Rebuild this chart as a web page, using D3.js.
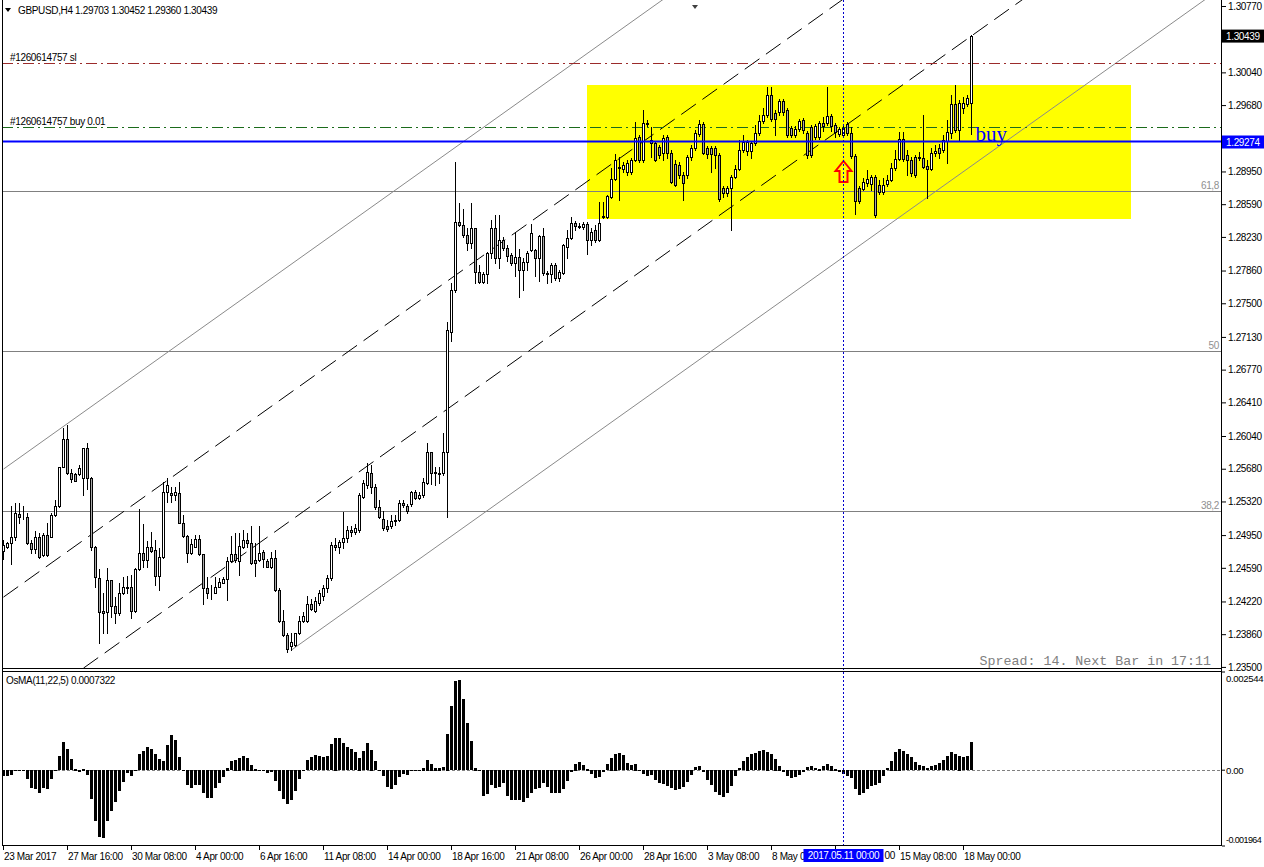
<!DOCTYPE html>
<html><head><meta charset="utf-8">
<script src="https://cdn.jsdelivr.net/npm/d3@7"></script>
<style>
body{margin:0;background:#fff;overflow:hidden}
svg{display:block}
text{font-family:"Liberation Sans",Arial,sans-serif;letter-spacing:-0.35px}
</style>
</head><body>
<svg id="c" width="1264" height="867"></svg>
<script>
// ---------------- DATA ----------------
const symbolTitle = "GBPUSD,H4  1.29703 1.30452 1.29360 1.30439";
const osmaTitle = "OsMA(11,22,5) 0.0007322";
const open=[1.24775,1.24819,1.24863,1.24929,1.25182,1.25160,1.25149,1.24863,1.24797,1.24929,1.24731,1.24951,1.24929,1.25171,1.25270,1.25699,1.26007,1.25633,1.25622,1.25622,1.25578,1.25908,1.25578,1.24819,1.24478,1.24115,1.24104,1.24456,1.24170,1.24093,1.24313,1.24368,1.24379,1.24115,1.24577,1.24753,1.24676,1.24819,1.24786,1.24500,1.24709,1.25424,1.25413,1.25391,1.25413,1.25083,1.24940,1.24753,1.24819,1.24907,1.24742,1.24368,1.24324,1.24313,1.24379,1.24423,1.24467,1.24665,1.24742,1.24665,1.24819,1.24896,1.24863,1.24676,1.24676,1.24764,1.24665,1.24599,1.24698,1.24346,1.24005,1.23851,1.23730,1.23741,1.23873,1.24005,1.24005,1.24192,1.24115,1.24203,1.24280,1.24368,1.24478,1.24841,1.24819,1.24874,1.24918,1.25006,1.24984,1.25006,1.25369,1.25501,1.25633,1.25479,1.25259,1.25127,1.25050,1.25050,1.25116,1.25116,1.25303,1.25270,1.25292,1.25424,1.25358,1.25391,1.25523,1.25864,1.25633,1.25633,1.25633,1.25864,1.27184,1.27646,1.28394,1.28361,1.28251,1.28163,1.28328,1.27844,1.27734,1.27822,1.28053,1.28328,1.27998,1.28196,1.28108,1.28031,1.27943,1.28009,1.27866,1.27954,1.28086,1.28086,1.27998,1.28240,1.27833,1.27822,1.27921,1.27778,1.27833,1.28119,1.28218,1.28383,1.28350,1.28339,1.28372,1.28196,1.28306,1.28196,1.28449,1.28449,1.28669,1.28867,1.28988,1.28977,1.28944,1.28944,1.29076,1.29329,1.29076,1.29483,1.29296,1.29263,1.29219,1.29153,1.29329,1.29153,1.29032,1.29021,1.28911,1.28911,1.29109,1.29208,1.29362,1.29472,1.29208,1.29208,1.29208,1.29131,1.28768,1.28713,1.28768,1.28889,1.28977,1.29186,1.29175,1.29175,1.29263,1.29373,1.29505,1.29571,1.29791,1.29593,1.29604,1.29725,1.29626,1.29428,1.29351,1.29417,1.29516,1.29373,1.29439,1.29329,1.29329,1.29483,1.29483,1.29560,1.29461,1.29362,1.29351,1.29472,1.29373,1.29120,1.28768,1.28757,1.28823,1.28812,1.28889,1.28801,1.28724,1.28812,1.28856,1.28988,1.29087,1.29307,1.29131,1.29076,1.29109,1.29098,1.29098,1.29010,1.28977,1.29153,1.29208,1.29186,1.29285,1.29373,1.29692,1.29406,1.29648,1.29692,1.29703];
const high=[1.24896,1.24874,1.25270,1.25303,1.25303,1.25270,1.25193,1.24896,1.24995,1.24973,1.24973,1.25083,1.25193,1.25336,1.25699,1.26128,1.26161,1.25677,1.25633,1.25721,1.25908,1.25963,1.25589,1.24830,1.24577,1.24313,1.24588,1.24456,1.24269,1.24423,1.24489,1.24500,1.24511,1.24588,1.25237,1.25072,1.24885,1.24984,1.24896,1.24808,1.25534,1.25578,1.25479,1.25479,1.25534,1.25171,1.24951,1.24907,1.24951,1.24951,1.24742,1.24489,1.24401,1.24489,1.24478,1.24489,1.24709,1.24940,1.24973,1.24973,1.25006,1.24973,1.25050,1.24863,1.25050,1.24786,1.24687,1.24764,1.24786,1.24368,1.24126,1.23873,1.23873,1.23873,1.24060,1.24104,1.24280,1.24247,1.24269,1.24346,1.24401,1.24511,1.24874,1.24918,1.24896,1.25204,1.25050,1.25050,1.25072,1.25413,1.25556,1.25743,1.25721,1.25512,1.25336,1.25215,1.25116,1.25171,1.25171,1.25336,1.25336,1.25292,1.25435,1.25446,1.25424,1.25578,1.25963,1.25864,1.25699,1.25699,1.26073,1.27294,1.27723,1.29054,1.28603,1.28537,1.28328,1.28603,1.28328,1.27921,1.27844,1.28064,1.28416,1.28471,1.28471,1.28229,1.28141,1.28053,1.28284,1.28097,1.27998,1.28075,1.28372,1.28097,1.28251,1.28328,1.27855,1.27943,1.27943,1.27866,1.28152,1.28306,1.28449,1.28405,1.28383,1.28394,1.28394,1.28328,1.28361,1.28614,1.28614,1.28691,1.28988,1.29142,1.29109,1.29054,1.29076,1.29098,1.29494,1.29351,1.29626,1.29516,1.29439,1.29285,1.29241,1.29351,1.29351,1.29186,1.29076,1.29054,1.28944,1.29131,1.29241,1.29406,1.29516,1.29494,1.29230,1.29230,1.29230,1.29153,1.28790,1.28790,1.28911,1.29021,1.29296,1.29351,1.29296,1.29285,1.29461,1.29571,1.29648,1.29879,1.29879,1.29626,1.29747,1.29747,1.29648,1.29450,1.29450,1.29527,1.29538,1.29395,1.29461,1.29472,1.29505,1.29549,1.29879,1.29582,1.29483,1.29439,1.29450,1.29494,1.29439,1.29142,1.28790,1.28878,1.28966,1.28911,1.28911,1.28856,1.28878,1.28911,1.29043,1.29186,1.29384,1.29384,1.29186,1.29109,1.29131,1.29164,1.29571,1.29076,1.29208,1.29241,1.29252,1.29351,1.29516,1.29791,1.29901,1.29736,1.29769,1.29791,1.30452];
const low=[1.24687,1.24808,1.24632,1.24896,1.25083,1.25127,1.24852,1.24753,1.24753,1.24698,1.24720,1.24720,1.24929,1.25160,1.25259,1.25699,1.25622,1.25534,1.25545,1.25611,1.25391,1.25457,1.24786,1.24379,1.23763,1.23873,1.23873,1.24049,1.23983,1.24071,1.24302,1.24313,1.24038,1.24104,1.24566,1.24599,1.24599,1.24764,1.24401,1.24346,1.24698,1.25314,1.25314,1.25336,1.25083,1.24929,1.24654,1.24742,1.24819,1.24731,1.24192,1.24258,1.24247,1.24313,1.24379,1.24423,1.24236,1.24654,1.24654,1.24511,1.24808,1.24819,1.24632,1.24500,1.24665,1.24599,1.24599,1.24588,1.24335,1.23994,1.23840,1.23664,1.23686,1.23730,1.23862,1.23994,1.23994,1.24126,1.24104,1.24181,1.24236,1.24324,1.24456,1.24786,1.24753,1.24808,1.24874,1.24940,1.24962,1.24984,1.25358,1.25468,1.25413,1.25237,1.25138,1.25006,1.24995,1.25028,1.25061,1.25105,1.25259,1.25193,1.25270,1.25347,1.25347,1.25369,1.25512,1.25512,1.25501,1.25523,1.25611,1.25149,1.27085,1.27624,1.28350,1.28229,1.28086,1.28108,1.27723,1.27723,1.27723,1.27723,1.27998,1.27943,1.27888,1.28086,1.27965,1.27921,1.27800,1.27569,1.27646,1.27866,1.28075,1.27800,1.27745,1.27811,1.27723,1.27734,1.27756,1.27745,1.27822,1.27998,1.28207,1.28306,1.28328,1.28317,1.28042,1.28141,1.28174,1.28185,1.28438,1.28438,1.28658,1.28856,1.28636,1.28944,1.28911,1.28922,1.29065,1.29054,1.29054,1.29450,1.29109,1.29065,1.29098,1.29076,1.29098,1.28823,1.28790,1.28878,1.28636,1.28878,1.29076,1.29186,1.29340,1.29142,1.29098,1.28944,1.28988,1.28625,1.28669,1.28680,1.28306,1.28878,1.28966,1.29164,1.29131,1.29098,1.29241,1.29351,1.29483,1.29549,1.29505,1.29351,1.29571,1.29571,1.29329,1.29329,1.29329,1.29395,1.29373,1.29098,1.29109,1.29307,1.29307,1.29395,1.29461,1.29395,1.29329,1.29340,1.29329,1.29351,1.29098,1.28482,1.28603,1.28746,1.28790,1.28746,1.28449,1.28702,1.28702,1.28790,1.28845,1.28966,1.29076,1.29065,1.28911,1.28900,1.28889,1.29076,1.28988,1.28658,1.28966,1.29120,1.29098,1.29164,1.29043,1.29318,1.29384,1.29296,1.29593,1.29670,1.29360];
const close=[1.24841,1.24863,1.24929,1.25193,1.25149,1.25155,1.24863,1.24797,1.24929,1.24709,1.24951,1.24731,1.25171,1.25270,1.25699,1.26007,1.25633,1.25567,1.25545,1.25688,1.25908,1.25578,1.24819,1.24489,1.24104,1.24093,1.24456,1.24170,1.24093,1.24313,1.24379,1.24379,1.24115,1.24577,1.24753,1.24676,1.24819,1.24775,1.24500,1.24709,1.25424,1.25501,1.25391,1.25424,1.25083,1.24940,1.24753,1.24852,1.24907,1.24742,1.24368,1.24313,1.24320,1.24379,1.24434,1.24467,1.24665,1.24742,1.24676,1.24830,1.24896,1.24863,1.24643,1.24643,1.24753,1.24687,1.24599,1.24698,1.24346,1.24005,1.23851,1.23697,1.23774,1.23873,1.24005,1.24060,1.24192,1.24137,1.24225,1.24313,1.24368,1.24478,1.24841,1.24819,1.24874,1.24918,1.25006,1.24984,1.25028,1.25391,1.25523,1.25644,1.25479,1.25259,1.25149,1.25028,1.25017,1.25105,1.25110,1.25303,1.25281,1.25215,1.25424,1.25358,1.25391,1.25534,1.25864,1.25633,1.25640,1.25625,1.25864,1.27206,1.27646,1.28394,1.28361,1.28251,1.28163,1.28328,1.27844,1.27734,1.27822,1.28053,1.28328,1.27998,1.28196,1.28108,1.28020,1.27943,1.28009,1.27866,1.27954,1.28053,1.28273,1.27998,1.28240,1.27833,1.27822,1.27921,1.27778,1.27844,1.28141,1.28218,1.28383,1.28350,1.28339,1.28372,1.28196,1.28284,1.28196,1.28383,1.28460,1.28680,1.28867,1.29076,1.28999,1.29021,1.29043,1.29076,1.29318,1.29076,1.29483,1.29472,1.29263,1.29076,1.29131,1.29318,1.29153,1.28834,1.28801,1.28911,1.28823,1.29109,1.29208,1.29373,1.29472,1.29153,1.29142,1.29142,1.29131,1.28647,1.28713,1.28768,1.28889,1.28977,1.29186,1.29274,1.29274,1.29263,1.29373,1.29505,1.29571,1.29791,1.29527,1.29527,1.29725,1.29604,1.29351,1.29351,1.29417,1.29505,1.29406,1.29131,1.29131,1.29450,1.29483,1.29450,1.29560,1.29450,1.29384,1.29417,1.29428,1.29373,1.29120,1.28625,1.28625,1.28834,1.28867,1.28889,1.28471,1.28724,1.28801,1.28856,1.28988,1.29087,1.29307,1.29087,1.29076,1.28933,1.28911,1.29109,1.28999,1.28977,1.29153,1.29175,1.29153,1.29296,1.29384,1.29692,1.29406,1.29703,1.29703,1.29758,1.30439];
const osma=[-0.000155,-0.000155,-0.000130,0.000005,0.000017,-0.000005,-0.000242,-0.000475,-0.000501,-0.000605,-0.000475,-0.000501,-0.000242,0.000017,0.000363,0.000734,0.000544,0.000285,0.000043,-0.000043,0.000043,-0.000130,-0.000760,-0.001313,-0.001745,-0.001771,-0.001313,-0.001054,-0.000821,-0.000536,-0.000302,-0.000086,-0.000155,0.000017,0.000415,0.000501,0.000588,0.000544,0.000420,0.000285,0.000242,0.000648,0.000907,0.000778,0.000346,-0.000017,-0.000389,-0.000475,-0.000389,-0.000389,-0.000588,-0.000717,-0.000717,-0.000475,-0.000346,-0.000190,0.000069,0.000242,0.000276,0.000328,0.000372,0.000328,0.000147,0.000043,0.000017,-0.000005,-0.000086,-0.000043,-0.000276,-0.000536,-0.000760,-0.000890,-0.000778,-0.000536,-0.000242,0.000017,0.000259,0.000346,0.000389,0.000363,0.000346,0.000363,0.000674,0.000847,0.000838,0.000708,0.000605,0.000540,0.000475,0.000328,0.000501,0.000708,0.000536,0.000242,0.000017,-0.000155,-0.000449,-0.000501,-0.000389,-0.000190,-0.000104,-0.000130,-0.000017,-0.000005,0.000005,0.000069,0.000276,0.000173,0.000069,0.000069,0.000086,0.000950,0.001659,0.002316,0.002333,0.001832,0.001227,0.000760,0.000069,-0.000017,-0.000674,-0.000622,-0.000389,-0.000475,-0.000449,-0.000346,-0.000674,-0.000778,-0.000790,-0.000778,-0.000821,-0.000734,-0.000605,-0.000501,-0.000475,-0.000328,-0.000449,-0.000605,-0.000588,-0.000588,-0.000501,-0.000276,-0.000043,0.000173,0.000216,0.000130,0.000043,-0.000104,-0.000216,-0.000190,-0.000043,0.000156,0.000328,0.000432,0.000449,0.000389,0.000190,0.000130,0.000173,0.000017,-0.000100,-0.000150,-0.000120,-0.000250,-0.000330,-0.000360,-0.000420,-0.000470,-0.000520,-0.000500,-0.000440,-0.000300,-0.000120,0.000080,0.000110,-0.000060,-0.000250,-0.000400,-0.000560,-0.000650,-0.000690,-0.000600,-0.000420,-0.000160,0.000060,0.000230,0.000350,0.000420,0.000450,0.000500,0.000520,0.000480,0.000420,0.000300,0.000120,-0.000060,-0.000150,-0.000200,-0.000190,-0.000120,-0.000040,0.000080,0.000110,0.000060,0.000040,0.000100,0.000150,0.000120,0.000040,-0.000040,-0.000100,-0.000150,-0.000220,-0.000480,-0.000640,-0.000600,-0.000500,-0.000420,-0.000380,-0.000330,-0.000150,0.000060,0.000250,0.000480,0.000560,0.000500,0.000420,0.000330,0.000200,0.000130,0.000110,0.000060,0.000100,0.000130,0.000180,0.000260,0.000360,0.000470,0.000420,0.000380,0.000330,0.000360,0.0007322];
const priceTicks=[1.30770,1.30040,1.29680,1.28950,1.28590,1.28230,1.27860,1.27500,1.27130,1.26770,1.26410,1.26040,1.25680,1.25320,1.24950,1.24590,1.24220,1.23860,1.23500];
const timeTickIdx=[0,16,32,48,64,80,96,112,128,144,160,176,192,208,224,240];
// labels partly hidden by the crosshair date box are kept as their visible parts
const timeLabels=["23 Mar 2017","27 Mar 16:00","30 Mar 08:00","4 Apr 00:00","6 Apr 16:00","11 Apr 08:00","14 Apr 00:00","18 Apr 16:00","21 Apr 08:00","26 Apr 00:00","28 Apr 16:00","3 May 08:00","8 May 0","","15 May 08:00","18 May 00:00"];
const osmaTicks=[0.002544,0.0,-0.001964];
const osmaTickLabels=["0.002544","0.00","-0.001964"];
const bidPrice=1.29274, lastPrice=1.30439;
const slPrice=1.30143, buyPrice=1.29439;
const orderLabels=["#1260614757 sl","#1260614757 buy 0.01"];
const fibLevels=[1.28735,1.26975,1.25215];
const fibLabels=["61,8","50","38,2"];
// channel lines: [startIdx, startPrice, endIdx, endPrice]
const channelSolid=[[0,1.25676,170,1.31002],[72,1.23686,305,1.30985]];
const channelDashed=[[0,1.24268,220,1.31161],[20,1.23487,260,1.31005]];
const boxIdx=[146,282], boxPrice=[1.29901,1.28427];
const crossIdx=210, crossLabel="2017.05.11 00:00";
const arrowIdx=210, arrowTipPrice=1.29076;
const buyTextIdx=243, buyTextPrice=1.29285;
const spreadText="Spread: 14. Next Bar in 17:11";

// ---------------- LAYOUT ----------------
const svg=d3.select("#c");
const L=2, R=1221, mainTop=0, mainBot=668, osTop=672, osBot=845;
const x=d3.scaleLinear().domain([0,242]).range([3.5,971.5]);
const y=d3.scaleLinear().domain([1.3077,1.2351]).range([6,666]);
const oy=d3.scaleLinear().domain([-0.001964,0.002544]).range([846,672]);

svg.append("rect").attr("width",1264).attr("height",867).attr("fill","#fff");
const defs=svg.append("defs");
defs.append("clipPath").attr("id","mc").append("rect").attr("x",L).attr("y",mainTop).attr("width",R-L).attr("height",mainBot-mainTop);
defs.append("clipPath").attr("id","oc").append("rect").attr("x",L).attr("y",osTop).attr("width",R-L).attr("height",osBot-osTop);

const main=svg.append("g").attr("clip-path","url(#mc)");
main.append("rect").attr("x",x(boxIdx[0])-0.5).attr("y",y(boxPrice[0])).attr("width",x(boxIdx[1])-x(boxIdx[0])).attr("height",y(boxPrice[1])-y(boxPrice[0])).attr("fill","#ffff00");
fibLevels.forEach((p,i)=>{
  const yy=Math.round(y(p))+0.5;
  main.append("line").attr("x1",L).attr("x2",R).attr("y1",yy).attr("y2",yy).attr("stroke","#808080").attr("stroke-width",1);
  main.append("text").attr("x",1219).attr("y",yy-3).attr("text-anchor","end").attr("font-size",10).attr("fill","#909090").text(fibLabels[i]);
});
channelSolid.forEach(c=>{
  main.append("line").attr("x1",x(c[0])).attr("y1",y(c[1])).attr("x2",x(c[2])).attr("y2",y(c[3])).attr("stroke","#8a8a8a").attr("stroke-width",1);
});
channelDashed.forEach(c=>{
  main.append("line").attr("x1",x(c[0])).attr("y1",y(c[1])).attr("x2",x(c[2])).attr("y2",y(c[3])).attr("stroke","#000").attr("stroke-width",1).attr("stroke-dasharray","18,8");
});
[[slPrice,"#9b2b2b"],[buyPrice,"#1b6b1b"]].forEach((d,i)=>{
  const yy=Math.round(y(d[0]))+0.5;
  main.append("line").attr("x1",L).attr("x2",R).attr("y1",yy).attr("y2",yy).attr("stroke",d[1]).attr("stroke-width",1).attr("stroke-dasharray","11,4,2,4");
  main.append("text").attr("x",10).attr("y",yy-2.5).attr("font-size",10).attr("fill","#000").text(orderLabels[i]);
});
// candles
const idx=d3.range(open.length);
const cg=main.append("g").attr("shape-rendering","crispEdges");
cg.selectAll("line.w").data(idx).join("line").attr("class","w")
  .attr("x1",i=>Math.floor(x(i))+0.5).attr("x2",i=>Math.floor(x(i))+0.5)
  .attr("y1",i=>Math.round(y(high[i]))).attr("y2",i=>Math.round(y(low[i]))+1)
  .attr("stroke","#000").attr("stroke-width",1);
cg.selectAll("rect.b").data(idx).join("rect").attr("class","b")
  .attr("x",i=>Math.floor(x(i))-0.5).attr("width",2)
  .attr("y",i=>Math.round(y(Math.max(open[i],close[i])))+0.5)
  .attr("height",i=>Math.max(0,Math.round(y(Math.min(open[i],close[i])))-Math.round(y(Math.max(open[i],close[i])))))
  .attr("fill",i=>close[i]>=open[i]?"#ffffff":"#a9a9a9").attr("stroke","#000").attr("stroke-width",1);
main.append("line").attr("x1",L).attr("x2",R).attr("y1",y(bidPrice)-0.5).attr("y2",y(bidPrice)-0.5).attr("stroke","#0000ff").attr("stroke-width",2);
const ax=x(arrowIdx), ay=y(arrowTipPrice);
main.append("path").attr("d",`M${ax},${ay+1} L${ax+8},${ay+11} L${ax+4},${ay+11} L${ax+4},${ay+22} L${ax-4},${ay+22} L${ax-4},${ay+11} L${ax-8},${ay+11} Z`)
  .attr("fill","none").attr("stroke","#ff0000").attr("stroke-width",2).attr("stroke-linejoin","miter");
main.append("text").attr("x",x(buyTextIdx)).attr("y",y(buyTextPrice))
  .style("font-family","'Liberation Serif','Times New Roman',serif").style("letter-spacing","0px")
  .attr("font-size",21).attr("fill","#0000ff").text("buy");
main.append("text").attr("x",1211).attr("y",665).attr("text-anchor","end")
  .style("font-family","'Liberation Mono','Courier New',monospace").style("letter-spacing","0px")
  .attr("font-size",13.3).attr("fill","#808080").text(spreadText);

// OsMA
const og=svg.append("g").attr("clip-path","url(#oc)");
og.append("line").attr("x1",L).attr("x2",R).attr("y1",Math.round(oy(0))+0.5).attr("y2",Math.round(oy(0))+0.5).attr("stroke","#808080").attr("stroke-dasharray","3,2");
og.append("g").attr("shape-rendering","crispEdges").selectAll("rect").data(osma).join("rect")
  .attr("x",(d,i)=>Math.floor(x(i))-1).attr("width",3)
  .attr("y",d=>Math.round(Math.min(oy(d),oy(0))))
  .attr("height",d=>Math.max(1,Math.round(Math.abs(oy(d)-oy(0)))))
  .attr("fill","#000");
og.append("text").attr("x",6).attr("y",684).attr("font-size",10).attr("fill","#000").text(osmaTitle);

svg.append("line").attr("x1",x(crossIdx)).attr("x2",x(crossIdx)).attr("y1",0).attr("y2",osBot).attr("stroke","#0000cc").attr("stroke-width",1).attr("stroke-dasharray","2,2");

const fr=svg.append("g").attr("fill","none").attr("stroke","#000").attr("shape-rendering","crispEdges");
fr.append("line").attr("x1",L+0.5).attr("x2",L+0.5).attr("y1",0).attr("y2",osBot);
fr.append("line").attr("x1",R+0.5).attr("x2",R+0.5).attr("y1",0).attr("y2",osBot+1);
fr.append("line").attr("x1",L).attr("x2",R+1).attr("y1",mainBot+0.5).attr("y2",mainBot+0.5);
fr.append("line").attr("x1",L).attr("x2",R+1).attr("y1",osTop-0.5).attr("y2",osTop-0.5);
fr.append("line").attr("x1",L).attr("x2",R+1).attr("y1",osBot+0.5).attr("y2",osBot+0.5);

const pa=svg.append("g").attr("transform",`translate(${R+1},0)`)
  .call(d3.axisRight(y).tickValues(priceTicks).tickSize(4).tickPadding(2).tickFormat(d3.format(".5f")));
pa.select(".domain").remove();
pa.selectAll("text").attr("font-size",10).attr("font-family",null).attr("fill","#000");
pa.selectAll("line").attr("stroke","#000");
[[lastPrice,"#000"],[bidPrice,"#0000ff"]].forEach(d=>{
  const yy=y(d[0]);
  svg.append("rect").attr("x",R+1).attr("y",yy-6.5).attr("width",42).attr("height",13).attr("fill",d[1]);
  svg.append("text").attr("x",R+5).attr("y",yy+3.5).attr("font-size",10).attr("fill","#fff").text(d3.format(".5f")(d[0]));
});
const oa=svg.append("g").attr("transform",`translate(${R+1},0)`);
osmaTicks.forEach((v,i)=>{
  const yy=i===0?678:(i===2?839:oy(v));
  oa.append("line").attr("x1",0).attr("x2",3).attr("y1",oy(v)).attr("y2",oy(v)).attr("stroke","#000");
  const t=oa.append("text").attr("x",4).attr("y",yy+3.5).attr("font-size",i===2?9:9.6).attr("fill","#000").text(osmaTickLabels[i]);
  if(i===2) t.style("letter-spacing","-0.6px");
});

const ta=svg.append("g").attr("transform",`translate(0,${osBot+1})`)
  .call(d3.axisBottom(x).tickValues(timeTickIdx).tickSize(4).tickPadding(3).tickFormat((d,i)=>timeLabels[i]));
ta.select(".domain").remove();
ta.selectAll("line").attr("stroke","#000").attr("transform","translate(-0.5,0)");
ta.selectAll("text").attr("text-anchor","start").attr("dx",0).attr("font-size",10).attr("font-family",null).attr("fill","#000");
const cx=x(crossIdx);
svg.append("rect").attr("x",cx-40).attr("y",849).attr("width",80).attr("height",13).attr("fill","#0000ff");
svg.append("text").attr("x",cx).attr("y",859).attr("text-anchor","middle").attr("font-size",10).attr("fill","#fff").text(crossLabel);
svg.append("text").attr("x",cx+41).attr("y",859).attr("font-size",10).attr("fill","#000").text("00");

svg.append("path").attr("d","M5,8 L11,8 L8,12 Z").attr("fill","#000");
svg.append("text").attr("x",18).attr("y",14).attr("font-size",10).attr("fill","#000").text(symbolTitle);
svg.append("path").attr("d","M692,5 L698,5 L695,9 Z").attr("fill","#404040");
</script>
</body></html>
